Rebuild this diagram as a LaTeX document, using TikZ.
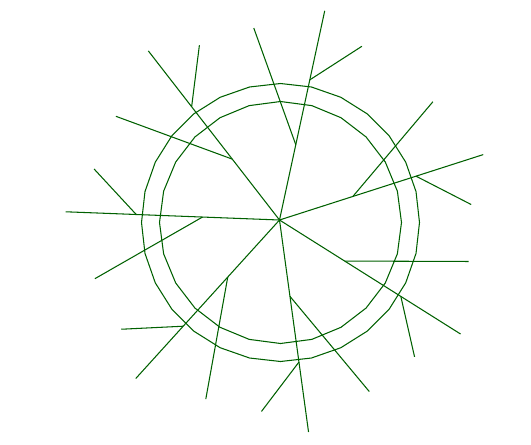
\documentclass[tikz,border=0pt]{standalone}
\usepackage{tikz}
\usetikzlibrary{calc}
\definecolor{leaf}{RGB}{0,96,0}

\begin{document}
\begin{tikzpicture}[x=0.02cm,y=0.02cm,
    twig/.style={draw=leaf,line width=0.6pt},
    ring/.style={draw=leaf,line width=0.6pt,line join=round}]
 \useasboundingbox (0,0) rectangle (531,444);
 \coordinate (hub) at (279.5,224);
 \coordinate (mid) at (280.5,221.5);
 % the two rings
 \foreach \r/\n in {139/29,121/25}
  \draw[ring] plot[samples=\n,domain=0:360,variable=\t]
   ({280.5+\r*cos(\t)},{221.5+\r*sin(\t)}) -- cycle;
 % seven rays, each with a long and a short side twig
 \foreach \a [count=\i] in {17.8,77.8,127.8,177.8,227.8,277.8,327.8} {
  \draw[twig] (hub) -- ++(\a:214) coordinate (tip\i)
    coordinate[pos=0.36] (ka\i) coordinate[pos=0.67] (kb\i);
  \draw[twig] (ka\i) -- ++(\a+32:124) coordinate (ea\i);
  \draw[twig] (kb\i) -- ++(\a-45:62) coordinate (eb\i);
 }
\end{tikzpicture}
\end{document}
